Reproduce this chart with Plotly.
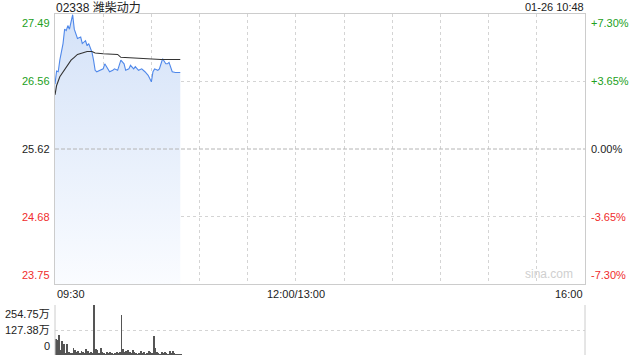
import plotly.graph_objects as go

title_text = "02338 潍柴动力"
stamp_text = "01-26 10:48"
prev_close = 25.62
price_ticks = [27.49, 26.56, 25.62, 24.68, 23.75]
pct_ticks = ["+7.30%", "+3.65%", "0.00%", "-3.65%", "-7.30%"]
vol_ticks = [254.75, 127.38, 0]
vol_tick_text = ["254.75万", "127.38万", "0"]
time_labels = ["09:30", "12:00/13:00", "16:00"]

price_times = ["09:30", "09:31", "09:32", "09:33", "09:35", "09:36", "09:37", "09:38", "09:39",
               "09:40", "09:41", "09:42", "09:43", "09:44", "09:46", "09:47", "09:49", "09:50",
               "09:51", "09:53", "09:54", "09:55", "09:56", "09:58", "10:00", "10:01", "10:03",
               "10:04", "10:06", "10:07", "10:09", "10:11", "10:13", "10:14", "10:16", "10:17",
               "10:19", "10:20", "10:22", "10:24", "10:26", "10:28", "10:30", "10:31", "10:32",
               "10:34", "10:35", "10:37", "10:39", "10:40", "10:41", "10:43", "10:45", "10:48"]
price_vals = [26.52, 26.70, 26.69, 26.85, 27.08, 27.28, 27.26, 27.33, 27.28,
              27.38, 27.48, 27.28, 27.22, 27.15, 27.17, 27.08, 27.12, 27.05,
              27.08, 26.96, 26.85, 26.71, 26.69, 26.71, 26.73, 26.80, 26.73,
              26.69, 26.71, 26.73, 26.71, 26.85, 26.80, 26.71, 26.73, 26.78,
              26.73, 26.76, 26.71, 26.73, 26.69, 26.64, 26.55, 26.69, 26.73,
              26.71, 26.73, 26.87, 26.80, 26.80, 26.82, 26.69, 26.68, 26.68]

avg_times = ["09:30", "09:31", "09:33", "09:35", "09:37", "09:40", "09:42", "09:44", "09:47",
             "09:50", "09:53", "09:55", "10:00", "10:09", "10:11", "10:19", "10:29", "10:36", "10:48"]
avg_vals = [26.37, 26.50, 26.62, 26.69, 26.76, 26.85, 26.89, 26.93, 26.95,
            26.97, 26.97, 26.95, 26.94, 26.93, 26.89, 26.88, 26.87, 26.86, 26.86]

vol_vals = [82, 76, 102, 25, 71, 54, 8, 56, 17, 6, 8, 34, 25, 17, 20, 10, 20, 14, 8, 29,
            20, 12, 17, 12, 254.75, 29, 25, 8, 34, 14, 8, 5, 14, 8, 14, 8, 5, 6, 14, 8,
            14, 204, 29, 17, 20, 25, 14, 8, 25, 14, 8, 5, 6, 20, 8, 17, 5, 6, 22, 14,
            8, 98, 34, 14, 8, 5, 14, 6, 14, 8, 5, 20, 6, 20, 8, 5, 4, 5, 3]


def to_min(t):
    h, m = map(int, t.split(":"))
    tot = h * 60 + m
    base = 9 * 60 + 30
    if tot >= 13 * 60:
        return tot - base - 60
    return tot - base


px_ = [to_min(t) for t in price_times]
ax_ = [to_min(t) for t in avg_times]
vx_ = list(range(len(vol_vals)))

W, H = 640, 360
x0, x1 = 55 / W, 585 / W
py0, py1 = 1 - 284 / H, 1 - 14 / H
vy0, vy1 = 1 - 355 / H, 1 - 305 / H

green = "#22a022"
red = "#f02c2c"
font = "Liberation Sans, Arial, Noto Sans CJK SC, sans-serif"

fig = go.Figure()
fig.add_trace(go.Scatter(
    x=px_, y=price_vals, mode="lines", line=dict(color="#4f88ea", width=1.1),
    fill="tozeroy",
    fillgradient=dict(type="vertical", start=23.75, stop=27.49,
                      colorscale=[[0, "rgba(250,252,255,1)"], [1, "rgba(212,226,248,1)"]]),
    xaxis="x", yaxis="y", hoverinfo="skip", showlegend=False))
fig.add_trace(go.Scatter(
    x=ax_, y=avg_vals, mode="lines", line=dict(color="#333333", width=1.1),
    xaxis="x", yaxis="y", hoverinfo="skip", showlegend=False))
fig.add_trace(go.Bar(
    x=vx_, y=vol_vals, width=0.55, marker=dict(color="#555555", line=dict(width=0)),
    xaxis="x2", yaxis="y2", hoverinfo="skip", showlegend=False))

fig.update_layout(
    width=W, height=H, margin=dict(l=0, r=0, t=0, b=0),
    paper_bgcolor="white", plot_bgcolor="white",
    font=dict(family=font, size=11, color="#222"),
    xaxis=dict(domain=[x0, x1], range=[0, 330], showticklabels=False, ticks="",
               showgrid=True, dtick=30, tick0=0, gridcolor="#d4d4d4", griddash="dot", gridwidth=1,
               zeroline=False, showline=True, linecolor="#cccccc", linewidth=1, mirror=True),
    yaxis=dict(domain=[py0, py1], range=[23.75, 27.49], showticklabels=False, ticks="",
               tickvals=[26.56, 24.68], showgrid=True, gridcolor="#d4d4d4", griddash="dot",
               zeroline=False, showline=True, linecolor="#cccccc", linewidth=1, mirror=True),
    xaxis2=dict(domain=[x0, x1], range=[-0.5, 330], anchor="y2", showticklabels=False, ticks="",
                showgrid=False, zeroline=False, showline=False),
    yaxis2=dict(domain=[vy0, vy1], range=[0, 254.75], anchor="x2", showticklabels=False, ticks="",
                tickvals=vol_ticks, showgrid=True, gridcolor="#d4d4d4", griddash="dot",
                zeroline=False, showline=False),
    bargap=0,
)

shapes = [
    dict(type="line", xref="x", yref="y", x0=0, x1=330, y0=prev_close, y1=prev_close,
         line=dict(color="#b4b4b4", width=1, dash="4px,2px")),
    dict(type="line", xref="paper", yref="paper", x0=x0, x1=x0, y0=vy0, y1=vy1,
         line=dict(color="#cccccc", width=1)),
    dict(type="line", xref="paper", yref="paper", x0=x1, x1=x1, y0=vy0, y1=vy1,
         line=dict(color="#cccccc", width=1)),
]
fig.update_layout(shapes=shapes)

ann = []
price_colors = [green, green, "#222", red, red]
anchors = ["top", "middle", "middle", "middle", "bottom"]
offs = [-1, 0, 0, 0, 1]
for v, t, c, a, o in zip(price_ticks, pct_ticks, price_colors, anchors, offs):
    ann.append(dict(x=x0, xref="paper", xshift=-3, y=v, yref="y", yshift=o, text=f"{v:.2f}",
                    showarrow=False, xanchor="right", yanchor=a, font=dict(color=c, size=11)))
    ann.append(dict(x=x1, xref="paper", xshift=4, y=v, yref="y", yshift=o, text=t,
                    showarrow=False, xanchor="left", yanchor=a, font=dict(color=c, size=11)))
vanch = ["top", "middle", "bottom"]
for v, t, a in zip(vol_ticks, vol_tick_text, vanch):
    ann.append(dict(x=x0, xref="paper", xshift=-3, y=v, yref="y2", yshift=(-1 if a == "top" else (1 if a == "bottom" else 0)),
                    text=t, showarrow=False, xanchor="right", yanchor=a, font=dict(size=11, color="#222")))
ann.append(dict(x=0, xref="x", y=py0, yref="paper", yshift=-2, text=time_labels[0], showarrow=False,
                xanchor="left", yanchor="top", font=dict(size=11, color="#222")))
ann.append(dict(x=150, xref="x", y=py0, yref="paper", yshift=-2, text=time_labels[1], showarrow=False,
                xanchor="center", yanchor="top", font=dict(size=11, color="#222")))
ann.append(dict(x=330, xref="x", y=py0, yref="paper", yshift=-2, text=time_labels[2], showarrow=False,
                xanchor="right", yanchor="top", font=dict(size=11, color="#222")))
ann.append(dict(x=x0, xref="paper", y=1, yref="paper", yshift=0, text=title_text, showarrow=False,
                xanchor="left", yanchor="top", borderpad=0, font=dict(size=12, color="#222")))
ann.append(dict(x=x1, xref="paper", y=1, yref="paper", yshift=0, text=stamp_text, showarrow=False,
                xanchor="right", yanchor="top", borderpad=0, font=dict(size=11, color="#222")))
ann.append(dict(x=x1, xref="paper", xshift=-10, y=py0, yref="paper", yshift=1, text="sina.com",
                showarrow=False, xanchor="right", yanchor="bottom", font=dict(size=12, color="#cfcfcf")))
fig.update_layout(annotations=ann)

fig.write_html("out.html")
